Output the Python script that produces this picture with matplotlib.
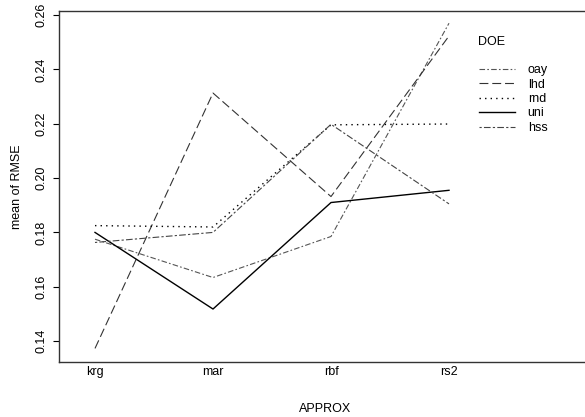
import numpy as np
import matplotlib.pyplot as plt

plt.rcParams['font.family'] = ['Liberation Sans', 'DejaVu Sans']

approx = ['krg', 'mar', 'rbf', 'rs2']
doe = ['oay', 'lhd', 'rnd', 'uni', 'hss']

# mean RMSE per APPROX level, one list per DOE
oay = [0.1775, 0.1634, 0.1785, 0.2570]
lhd = [0.1373, 0.2313, 0.1932, 0.2523]
rnd = [0.1825, 0.1820, 0.2196, 0.2199]
uni = [0.1800, 0.1518, 0.1910, 0.1955]
hss = [0.1763, 0.1800, 0.2198, 0.1905]

series = [oay, lhd, rnd, uni, hss]
styles = [(0, (5, 2, 1.5, 2)), (0, (8, 3.5)), (0, (1, 3)), '-', (0, (2, 2, 6, 2))]
colors = ['#555555', '#333333', '#000000', '#000000', '#444444']
widths = [0.8, 0.8, 1.0, 1.0, 0.8]

fig = plt.figure(figsize=(5.85, 4.17), dpi=100)
W, H = 585, 417
ax = fig.add_axes([59 / W, 1 - 362 / H, (591 - 59) / W, (362 - 11) / H])

x = np.arange(1, len(approx) + 1)
for vals, name, ls, c, lw in zip(series, doe, styles, colors, widths):
    ax.plot(x, vals, linestyle=ls, color=c, linewidth=lw, label=name)

ax.set_xlim(1 - 36 / 118, 4 + 142 / 118)
ax.set_ylim(0.1323, 0.2615)
ax.set_xticks(x)
ax.set_xticklabels(approx, fontsize=9)
ax.tick_params(axis='x', length=0, pad=3)
ax.set_yticks([0.14, 0.16, 0.18, 0.20, 0.22, 0.24, 0.26])
ax.set_yticklabels(['0.14', '0.16', '0.18', '0.20', '0.22', '0.24', '0.26'],
                   rotation=90, va='center', fontsize=9)
ax.tick_params(axis='y', length=4, width=0.8, pad=4)
for s in ax.spines.values():
    s.set_linewidth(1.0)
    s.set_color('#333333')

ax.set_xlabel('APPROX', fontsize=9, labelpad=18)
ax.set_ylabel('mean of RMSE', fontsize=9, labelpad=9)

# legend title and entries
ax.text((478 - 59) / (591 - 59), 1 - (42 - 11) / 351, 'DOE', transform=ax.transAxes,
        fontsize=9, va='center', ha='left')
leg = ax.legend(loc='upper left', bbox_to_anchor=((479 - 59) / (591 - 59), 1 - (64 - 11) / 351),
                frameon=False, fontsize=9, handlelength=2.9,
                labelspacing=0.2, handletextpad=1.0, borderpad=0, borderaxespad=0)

fig.savefig('out.png', dpi=100)
plt.close(fig)
